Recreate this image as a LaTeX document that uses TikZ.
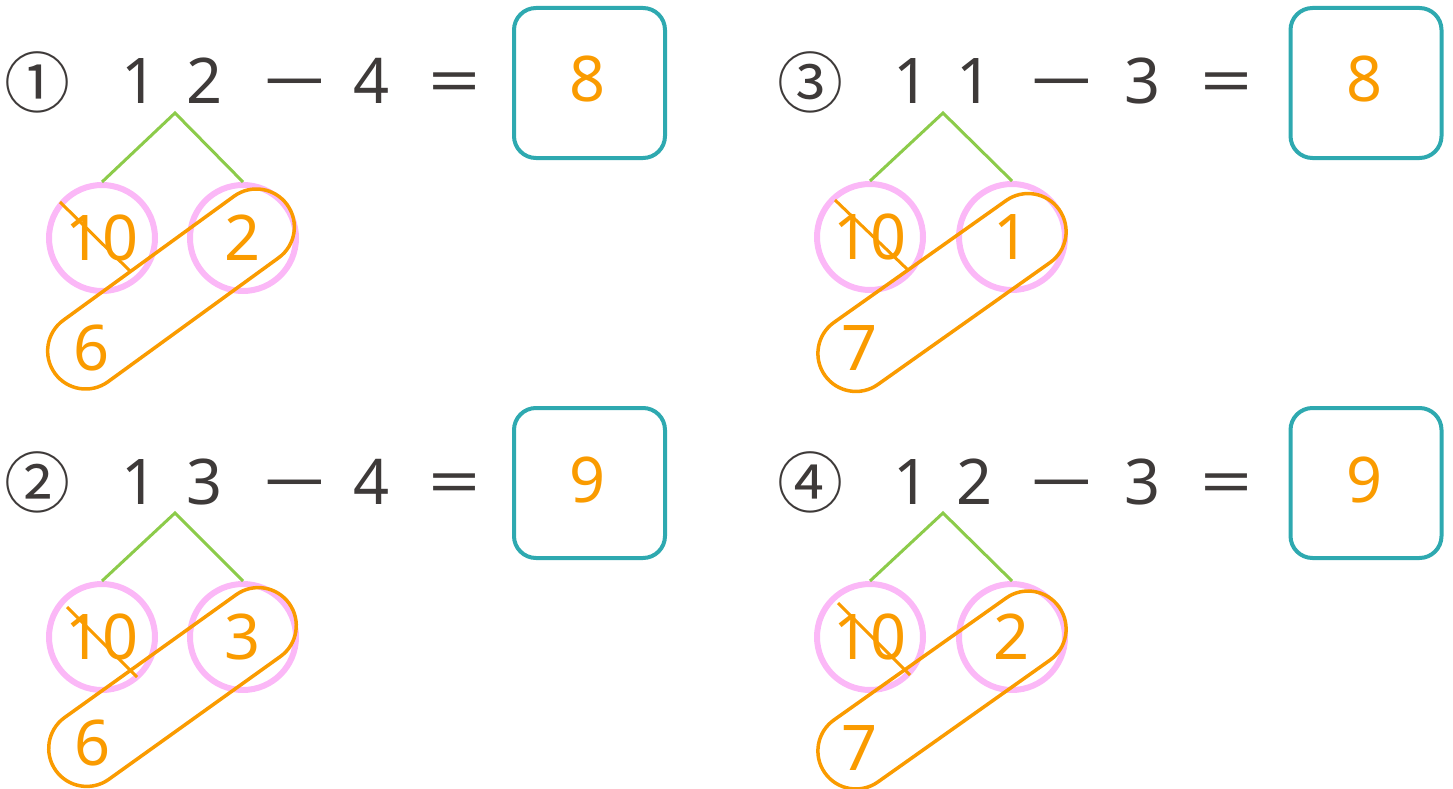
\documentclass[tikz,border=0pt]{standalone}
\usepackage{fontspec}
\setmainfont{Noto Sans}
\newfontfamily\circfont{Noto Sans CJK JP}
\definecolor{txt}{HTML}{3E3A39}
\definecolor{org}{HTML}{FA9B00}
\definecolor{pnk}{HTML}{FBB8F7}
\definecolor{tealc}{HTML}{2EA9B0}
\definecolor{grn}{HTML}{8CCB4A}
\newcommand\longminus{\scalebox{1.8}[1]{−}}
\newcommand\longeq{\scalebox{1.45}[1]{=}}
\tikzset{
  eq/.style={text=txt, font=\fontsize{63}{63}\selectfont, anchor=base, inner sep=0pt},
  circnum/.style={text=txt, font=\circfont\fontsize{66}{66}\selectfont, inner sep=0pt},
  num/.style={text=org, font=\fontsize{63}{63}\selectfont, anchor=base, inner sep=0pt},
  ansbox/.style={draw=tealc, line width=4pt, rounded corners=22pt, minimum width=151pt, minimum height=150pt, inner sep=0pt},
  part/.style={circle, draw=pnk, line width=6pt, minimum size=106pt, inner sep=0pt, text=org, font=\fontsize{63}{63}\selectfont},
  leg/.style={draw=grn, line width=3pt},
  strike/.style={draw=org, line width=3pt},
  capsule/.style={draw=org, line width=3.5pt, rounded corners=38pt, minimum width=287pt, minimum height=76pt, inner sep=0pt},
}
\begin{document}
\begin{tikzpicture}[x=1pt,y=-1pt]
\useasboundingbox (0,0) rectangle (1453,789);
% ---------- panel 1 ----------
\node[circnum] (p1n) at (38,82) {①};
\node[eq] (p1a) at (140,104) {1};
\node[eq] (p1b) at (205,104) {2};
\node[eq] (p1m) at (295,104) {\longminus};
\node[eq] (p1c) at (372,104) {4};
\node[eq] (p1e) at (455,104) {\longeq};
\node[ansbox] (p1box) at (589.5,83) {};
\node[num] (p1ans) at (588,102) {8};
\coordinate (p1apex) at (175,113);
\node[part] (p1l) at (102,238) {10};
\node[part] (p1r) at (243,238) {2};
\draw[leg] (p1l.north) -- (p1apex) -- (p1r.north);
\coordinate (p1s1) at (60,202);
\coordinate (p1s2) at (130,271);
\draw[strike] (p1s1) -- (p1s2);
\node[capsule, rotate=36] (p1cap) at (171,289) {};
\node[num] (p1bot) at (92,370) {6};
% ---------- panel 2 ----------
\node[circnum] (p2n) at (38,482) {②};
\node[eq] (p2a) at (140,504) {1};
\node[eq] (p2b) at (205,504) {3};
\node[eq] (p2m) at (295,504) {\longminus};
\node[eq] (p2c) at (372,504) {4};
\node[eq] (p2e) at (455,504) {\longeq};
\node[ansbox] (p2box) at (589.5,483) {};
\node[num] (p2ans) at (588,502) {9};
\coordinate (p2apex) at (175,513);
\node[part] (p2l) at (102,637) {10};
\node[part] (p2r) at (243,637) {3};
\draw[leg] (p2l.north) -- (p2apex) -- (p2r.north);
\coordinate (p2s1) at (67,607);
\coordinate (p2s2) at (137,677);
\draw[strike] (p2s1) -- (p2s2);
\node[capsule, rotate=35.6] (p2cap) at (172.5,687) {};
\node[num] (p2bot) at (93,765) {6};
% ---------- panel 3 ----------
\node[circnum] (p3n) at (810,82) {③};
\node[eq] (p3a) at (912,104) {1};
\node[eq] (p3b) at (975,104) {1};
\node[eq] (p3m) at (1062,104) {\longminus};
\node[eq] (p3c) at (1143,104) {3};
\node[eq] (p3e) at (1227,104) {\longeq};
\node[ansbox] (p3box) at (1366,83) {};
\node[num] (p3ans) at (1364,102) {8};
\coordinate (p3apex) at (943,113);
\node[part] (p3l) at (870,237) {10};
\node[part] (p3r) at (1012,237) {1};
\draw[leg] (p3l.north) -- (p3apex) -- (p3r.north);
\coordinate (p3s1) at (835,200);
\coordinate (p3s2) at (907,269);
\draw[strike] (p3s1) -- (p3s2);
\node[capsule, rotate=35.3] (p3cap) at (942,292.5) {};
\node[num] (p3bot) at (860,370) {7};
% ---------- panel 4 ----------
\node[circnum] (p4n) at (810,482) {④};
\node[eq] (p4a) at (912,504) {1};
\node[eq] (p4b) at (975,504) {2};
\node[eq] (p4m) at (1062,504) {\longminus};
\node[eq] (p4c) at (1143,504) {3};
\node[eq] (p4e) at (1227,504) {\longeq};
\node[ansbox] (p4box) at (1366,483) {};
\node[num] (p4ans) at (1364,502) {9};
\coordinate (p4apex) at (943,513);
\node[part] (p4l) at (870,637) {10};
\node[part] (p4r) at (1012,637) {2};
\draw[leg] (p4l.north) -- (p4apex) -- (p4r.north);
\coordinate (p4s1) at (838,603);
\coordinate (p4s2) at (910,675);
\draw[strike] (p4s1) -- (p4s2);
\node[capsule, rotate=35.3] (p4cap) at (942,690) {};
\node[num] (p4bot) at (860,770) {7};
\end{tikzpicture}
\end{document}
